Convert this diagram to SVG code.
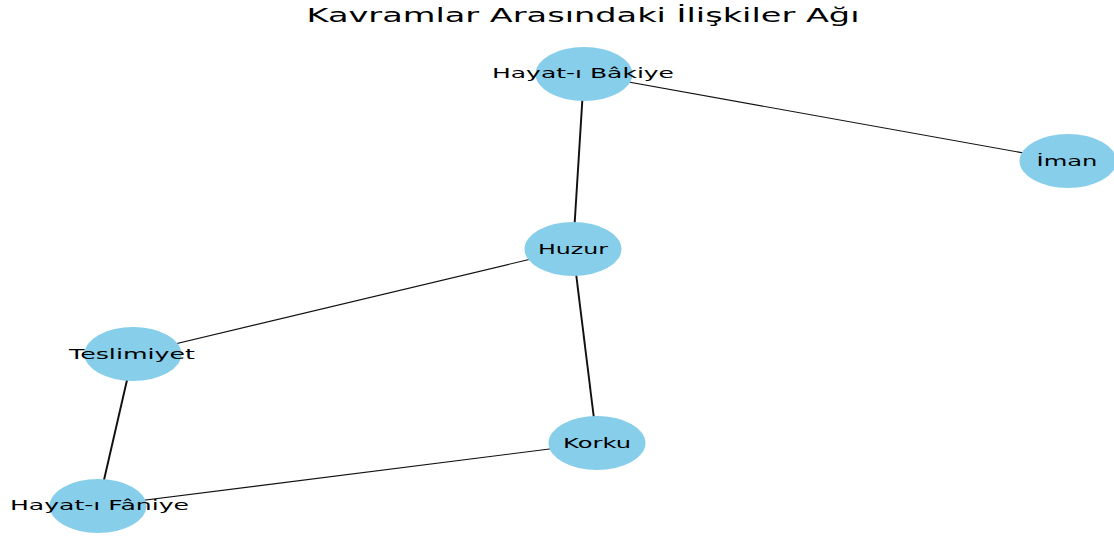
<svg xmlns="http://www.w3.org/2000/svg" width="1114" height="537" viewBox="0 0 1114 537">
<style>
.n{fill:#87CEEB;stroke:none}
.t{font-family:"DejaVu Sans",sans-serif;font-size:14.2px;fill:#000;text-anchor:middle}
.e{stroke:#111;stroke-width:1.15;fill:none}
.v{stroke-width:1.95}
.title{font-family:"DejaVu Sans",sans-serif;font-size:19px;fill:#000;text-anchor:middle}
</style>
<rect width="1114" height="537" fill="#fff"/>
<text class="title" x="583" y="22" textLength="553" lengthAdjust="spacingAndGlyphs">Kavramlar Arasındaki İlişkiler Ağı</text>
<g id="edges">
<line class="e" x1="584" y1="74" x2="1068" y2="161"/>
<line class="e v" x1="584" y1="74" x2="573" y2="249"/>
<line class="e" x1="573" y1="249" x2="133" y2="354"/>
<line class="e v" x1="573" y1="249" x2="597" y2="443"/>
<line class="e v" x1="133" y1="354" x2="98" y2="506"/>
<line class="e" x1="98" y1="506" x2="597" y2="443"/>
</g>
<g id="node-bakiye"><ellipse class="n" cx="584" cy="74" rx="48.5" ry="27"/><text class="t" x="583" y="78" textLength="182" lengthAdjust="spacingAndGlyphs">Hayat-ı Bâkiye</text></g>
<g id="node-iman"><ellipse class="n" cx="1068" cy="161" rx="48.5" ry="27"/><text class="t" x="1067" y="165.5" textLength="61" lengthAdjust="spacingAndGlyphs">İman</text></g>
<g id="node-huzur"><ellipse class="n" cx="573" cy="249" rx="48.5" ry="27"/><text class="t" x="573" y="253.5" textLength="70" lengthAdjust="spacingAndGlyphs">Huzur</text></g>
<g id="node-teslimiyet"><ellipse class="n" cx="133" cy="354" rx="48.5" ry="27"/><text class="t" x="132" y="358.5" textLength="126" lengthAdjust="spacingAndGlyphs">Teslimiyet</text></g>
<g id="node-korku"><ellipse class="n" cx="597" cy="443" rx="48.5" ry="27"/><text class="t" x="597" y="447.5" textLength="68" lengthAdjust="spacingAndGlyphs">Korku</text></g>
<g id="node-faniye"><ellipse class="n" cx="98" cy="506" rx="48.5" ry="27"/><text class="t" x="99.5" y="509.5" textLength="179" lengthAdjust="spacingAndGlyphs">Hayat-ı Fâniye</text></g>
</svg>
